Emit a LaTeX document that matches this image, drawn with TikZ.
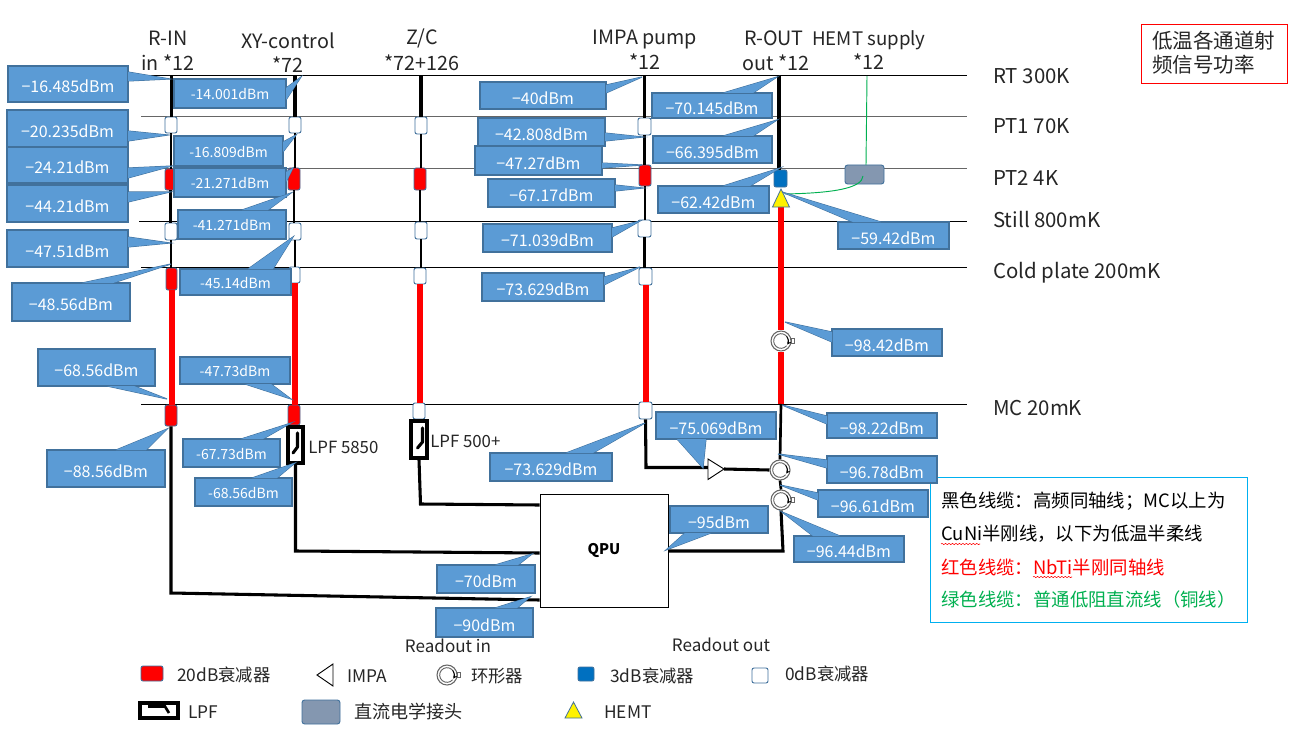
\documentclass[tikz,border=0pt]{standalone}
\usepackage{fontspec}
\setmainfont{Noto Sans CJK SC}
\usetikzlibrary{arrows.meta,decorations.pathmorphing}
\definecolor{cfillc}{HTML}{5B9BD5}
\definecolor{cedge}{HTML}{41719C}
\definecolor{attb}{HTML}{0070C0}
\definecolor{hdr}{HTML}{8497B0}
\definecolor{cyanb}{HTML}{00B0F0}
\definecolor{grn}{HTML}{00B050}
\newcommand{\fs}[1]{\fontsize{#1}{#1}\selectfont}
\newcommand{\clower}{2pt}
\tikzset{
 lvl/.style={line width=0.75pt,black},
 lvlg/.style={line width=0.75pt,black!60},
 coax/.style={line width=2.3pt,black},
 coaxthin/.style={line width=2pt,black},
 nbti/.style={line width=4.5pt,red},
 cnode/.style={draw=cedge,fill=cfillc,line width=0.8pt,inner sep=0pt,text=white,font=\fs{12}},
 ctail/.style={draw=cedge,fill=cfillc,line width=0.8pt,line join=miter},
 att0/.style={draw=cedge,fill=white,line width=0.7pt,rounded corners=1.5pt,inner sep=0pt},
 att20/.style={draw=cedge,fill=red,line width=0.7pt,rounded corners=1.5pt,inner sep=0pt},
 att3/.style={draw=cedge,fill=attb,line width=0.7pt,rounded corners=1.5pt,inner sep=0pt},
 conn/.style={draw=cedge,fill=hdr,line width=0.7pt,rounded corners=2pt,inner sep=0pt},
 lpfb/.style={draw=black,fill=white,line width=2.6pt,inner sep=0pt},
 lbl/.style={inner sep=0pt,font=\fs{14.8},text=black!85},
 rowl/.style={inner sep=0pt,font=\fs{15.3},text=black!85,anchor=west},
 leg/.style={inner sep=0pt,font=\fs{13},text=black!85},
 infot/.style={inner sep=0pt,anchor=west,font=\fs{13.8}},
 notet/.style={inner sep=0pt,anchor=west,font=\fs{15.4},text=black!85},
 wavy/.style={red,line width=0.4pt,decorate,decoration={snake,amplitude=0.5pt,segment length=2.6pt}},
 circ/.style={circle,draw=black!60,fill=white,line width=0.8pt,inner sep=0pt,minimum size=15pt},
 hemt/.style={draw=cedge,fill=yellow,line width=0.6pt,line join=miter},
}
% name x0 y0 x1 y1 style
\newcommand{\boxn}[6]{%
 \pgfmathsetmacro\bcx{(#2+#4)/2}\pgfmathsetmacro\bcy{(#3+#5)/2}%
 \pgfmathsetmacro\bw{(#4-#2)*0.75}\pgfmathsetmacro\bh{(#5-#3)*0.75}%
 \node[#6,rectangle,minimum width=\bw pt,minimum height=\bh pt] (#1) at (\bcx,\bcy) {};}
% name x0 y0 x1 y1 text tip base1 base2
\newcommand{\cb}[9]{%
 \pgfmathsetmacro\bcx{(#2+#4)/2}\pgfmathsetmacro\bcy{(#3+#5)/2}%
 \pgfmathsetmacro\bw{(#4-#2)*0.75}\pgfmathsetmacro\bh{(#5-#3)*0.75}%
 \draw[ctail] (#8)--(#7)--(#9);
 \node[cnode,rectangle,minimum width=\bw pt,minimum height=\bh pt] (#1) at (\bcx,\bcy) {\raisebox{-\clower}[\height][\depth]{#6}};
 \fill[cfillc] (#8)--(#7)--(#9)--cycle;}
\newcommand{\circu}[3]{%
 \node[circ] (#1) at (#2,#3) {};
 \draw[black!60,line width=0.7pt] (#1.center) ++(-40:5.5pt) arc[start angle=-40,end angle=-350,radius=5.5pt];
 \draw[black,line width=0.6pt,-{Stealth[length=3pt,width=3pt]}] (#1.center) ++(40:5.5pt) arc[start angle=40,end angle=-30,radius=5.5pt];}
% straight vertical segment from node anchor down to the level of another anchor
\newcommand{\vseg}[3]{\draw[#1] (#2)--(#2|-#3);}
\begin{document}
\begin{tikzpicture}[x=0.75pt,y=-0.75pt]
\useasboundingbox (0,0) rectangle (1309,738);
\fill[white] (0,0) rectangle (1309,738);
% levels
\coordinate (rtL) at (147,76); \coordinate (rtR) at (967,76);
\coordinate (p1L) at (141,117); \coordinate (p1R) at (967,117);
\coordinate (p2L) at (141,168.5); \coordinate (p2R) at (967,168.5);
\coordinate (stL) at (139,221.5); \coordinate (stR) at (967,221.5);
\coordinate (coL) at (141,267.5); \coordinate (coR) at (967,267.5);
\coordinate (mcL) at (141,404); \coordinate (mcR) at (967,404);
\draw[lvl] (rtL)--(rtR);
\draw[lvlg] (p1L)--(p1R);
\draw[lvlg] (p2L)--(p2R);
\draw[lvl] (stL)--(stR);
\draw[lvl] (coL)--(coR);
\draw[lvl] (mcL)--(mcR);
% tops
\coordinate (t1) at (171.5,76); \coordinate (t2) at (295,76); \coordinate (t3) at (421,76);
\coordinate (t4) at (644.5,76); \coordinate (t5) at (779,76); \coordinate (t6) at (867,76);
% QPU
\boxn{qpu}{540}{494}{668}{607}{draw=black,fill=white,line width=0.7pt,inner sep=0pt}
\node[font=\fs{11}\bfseries,inner sep=0pt] at (qpu.center) {QPU};
% col 1
\boxn{a11}{165}{117}{177}{133}{att0}
\boxn{a12}{165}{169}{176}{190}{att20}
\boxn{a13}{165}{223}{177}{240}{att0}
\boxn{a14}{166}{268}{177}{290}{att20}
\boxn{a15}{165}{405}{177}{426}{att20}
\vseg{coax}{t1}{a11.north}
\vseg{coaxthin}{a11.south}{a12.north}
\vseg{coaxthin}{a12.south}{a13.north}
\vseg{coaxthin}{a13.south}{a14.north}
\vseg{nbti}{a14.south}{a15.north}
\draw[coax] (a15.south)--(171,593)--(qpu.west|-0,600);
% col 2
\boxn{a21}{289}{117}{301}{133}{att0}
\boxn{a22}{288}{168}{300}{190}{att20}
\boxn{a23}{289}{223}{301}{240}{att0}
\boxn{a24}{289}{267}{300}{283}{att0}
\boxn{a25}{288}{405}{300}{425}{att20}
\boxn{l2}{288}{427}{303}{463}{lpfb}
\vseg{coax}{t2}{a21.north}
\vseg{coaxthin}{a21.south}{a22.north}
\vseg{coaxthin}{a22.south}{a23.north}
\vseg{coaxthin}{a23.south}{a24.north}
\vseg{nbti}{a24.south}{a25.north}
\draw[coax,line cap=round,line join=round] (297.5,433)--(297.5,447)--(293,453);
\draw[coax] (l2.south)--(295.5,551)--(qpu.west|-0,553);
% col 3
\boxn{a31}{415}{117}{427}{134}{att0}
\boxn{a32}{414}{168}{426}{190}{att20}
\boxn{a33}{415}{222}{427}{239}{att0}
\boxn{a34}{414}{268}{426}{284}{att0}
\boxn{a35}{413}{403}{425}{419}{att0}
\boxn{l3}{411}{421}{427}{458}{lpfb}
\vseg{coax}{t3}{a31.north}
\vseg{coaxthin}{a31.south}{a32.north}
\vseg{coaxthin}{a32.south}{a33.north}
\vseg{coaxthin}{a33.south}{a34.north}
\vseg{nbti}{a34.south}{a35.north}
\draw[coax,line cap=round,line join=round] (422.5,428)--(422.5,442)--(417.5,448);
\draw[coax] (l3.south)--(420.5,504)--(qpu.west|-0,505);
% col 4
\boxn{a41}{638}{118}{651}{135}{att0}
\boxn{a42}{639}{165}{651}{186}{att20}
\boxn{a43}{638}{220}{651}{237}{att0}
\boxn{a44}{639}{268}{652}{285}{att0}
\boxn{a45}{639}{402}{652}{419}{att0}
\vseg{coax}{t4}{a41.north}
\vseg{coaxthin}{a41.south}{a42.north}
\vseg{coaxthin}{a42.south}{a43.north}
\vseg{coaxthin}{a43.south}{a44.north}
\vseg{nbti}{a44.south}{a45.north}
% col 5
\boxn{a51}{774}{170}{787}{187}{att3}
\draw[coax,line width=3pt] (t5)--(t5|-a51.north);
\coordinate (h5t) at (781,189);
\coordinate (h5b) at (781,207);
\circu{c1}{781}{341}
\circu{c2}{780}{470}
\circu{c3}{781}{500}
\coordinate (mc5) at (781,404);
\draw[nbti] (h5b)--(c1.north);
\draw[nbti] (c1.south)--(mc5);
\draw[hemt] (h5t)--(789.5,207)--(772.5,207)--cycle;
\draw[coaxthin] (mc5)--(c2.north);
\draw[coaxthin] (c2.south)--(c3.north);
\draw[coax] (c3.south)--(783,551)--(qpu.east|-0,551);
\draw[black!60,fill=white,line width=0.6pt] (791,338.5) rectangle (794,343.5);
\draw[black!60,fill=white,line width=0.6pt] (791,497.5) rectangle (794,502.5);
% amp
\draw[coax] (a45.south)--(646,467.5)--(708,467.5);
\draw[black,fill=white,line width=0.7pt] (708,459)--(724,469)--(708,479.5)--cycle;
\coordinate (ampo) at (724,469);
\draw[coax] (ampo)--(c2.west);
% green
\boxn{dc}{845}{165}{884}{184}{conn}
\draw[grn,line width=0.7pt] (t6)--(866,165);
\draw[grn,line width=0.7pt] (863,176) .. controls (862,188) and (835,193) .. (785,194);
% header labels
\node[lbl] at (168,38) {R-IN};
\node[lbl] at (168,63) {in *12};
\node[lbl] at (288,41) {XY-control};
\node[lbl] at (288,65) {*72};
\node[lbl] at (422,38) {Z/C};
\node[lbl] at (422,63) {*72+126};
\node[lbl] at (645,40) {IMPA pump};
\node[lbl] at (645,62) {*12};
\node[lbl] at (774,38) {R-OUT};
\node[lbl] at (776,63) {out *12};
\node[lbl,font=\fs{14}] at (869,40) {HEMT supply};
\node[lbl] at (869,62) {*12};
% row labels
\node[rowl] at (993,76) {RT 300K};
\node[rowl] at (993,126) {PT1 70K};
\node[rowl] at (993,178) {PT2 4K};
\node[rowl] at (993,220) {Still 800mK};
\node[rowl] at (993,273) {Cold plate 200mK};
\node[rowl] at (993,408) {MC 20mK};
\node[leg,anchor=west,font=\fs{12.6}] at (308,447) {LPF 5850};
\node[leg,anchor=west,font=\fs{12.6}] at (430,441) {LPF 500+};
\node[leg,font=\fs{12.8}] at (448,646) {Readout in};
\node[leg,font=\fs{12.8}] at (721,645) {Readout out};
% callouts col1
\cb{k1}{8}{66}{128}{102}{−16.485dBm}{170,79}{128,72}{128,81}
\cb{k2}{7}{110}{128}{147}{−20.235dBm}{168,135}{128,131}{128,141}
\cb{k3}{7}{147}{128}{183}{−24.21dBm}{172,166}{128,168}{128,178}
\cb{k4}{7}{185}{128}{222}{−44.21dBm}{170,192}{128,192}{128,202}
\cb{k5}{7}{230}{128}{267}{−47.51dBm}{170,243}{128,237}{128,247}
\cb{k6}{12}{283}{130}{321}{−48.56dBm}{171,264}{82,283}{113,283}
\cb{k7}{38}{349}{155}{386}{−68.56dBm}{167,399}{107,386}{134,386}
\cb{k8}{47}{450}{165}{487}{−88.56dBm}{167,429}{116,450}{146,450}
% col2
\renewcommand{\clower}{0.5pt}
\cb{m1}{174}{79}{286}{108}{\fs{10.5}-14.001dBm}{301,77}{286,88}{286,100}
\cb{m2}{174}{136}{283}{166}{\fs{10.5}-16.809dBm}{296,135}{283,142}{283,152}
\cb{m3}{174}{168}{286}{197}{\fs{10.5}-21.271dBm}{293,168}{286,172}{286,182}
\cb{m4}{178}{210}{286}{239}{\fs{10.5}-41.271dBm}{291,193}{242,210}{268,210}
\cb{m5}{180}{269}{291}{295}{\fs{10.5}-45.14dBm}{293,237}{248,269}{273,269}
\cb{m6}{180}{357}{290}{384}{\fs{10.5}-47.73dBm}{291,399}{245,384}{271,384}
\cb{m7}{183}{439}{280}{467}{\fs{10.5}-67.73dBm}{291,423}{241,439}{263,439}
\cb{m8}{195}{478}{292}{506}{\fs{10.5}-68.56dBm}{295,463}{252,478}{277,478}
\renewcommand{\clower}{2pt}
\cb{m9}{437}{565}{535}{593}{−70dBm}{532,554}{495,565}{518,565}
\cb{m10}{436}{608}{533}{637}{−90dBm}{530,597}{495,608}{517,608}
% col4
\cb{n1}{480}{82}{606}{109}{−40dBm}{642,77}{606,85}{606,93}
\cb{n2}{478}{118}{605}{146}{−42.808dBm}{643,137}{605,133}{605,141}
\cb{n3}{475}{146}{602}{175}{−47.27dBm}{642,165}{602,163}{602,168}
\cb{n4}{488}{179}{615}{207}{−67.17dBm}{643,188}{615,185}{615,191}
\cb{n5}{483}{224}{612}{252}{−71.039dBm}{640,221}{612,228}{612,237}
\cb{n6}{482}{273}{604}{301}{−73.629dBm}{640,267}{604,277}{604,285}
\cb{n7}{490}{453}{612}{481}{−73.629dBm}{645,423}{566,453}{593,453}
% col5
\cb{p1}{652}{93}{772}{118}{−70.145dBm}{777,77}{723,93}{753,93}
\cb{p2}{653}{136}{772}{163}{−66.395dBm}{777,120}{723,136}{753,136}
\cb{p3}{658}{186}{769}{213}{−62.42dBm}{780,168}{723,186}{750,186}
\cb{p4}{838}{222}{949}{249}{−59.42dBm}{782,192}{853,222}{881,222}
\cb{p5}{832}{329}{942}{356}{−98.42dBm}{785,322}{832,332}{832,342}
\cb{p6}{827}{413}{937}{438}{−98.22dBm}{782,405}{827,416}{827,424}
\cb{p7}{656}{412}{776}{439}{−75.069dBm}{703,468}{677,439}{706,439}
\cb{p9}{670}{506}{768}{533}{−95dBm}{666,550}{685,533}{711,533}
\cb{p10}{794}{536}{904}{562}{−96.44dBm}{782,512}{813,536}{840,536}
% info box
\boxn{info}{930}{477}{1247}{622}{draw=cyanb,fill=white,line width=0.7pt}
\cb{p8}{827}{456}{937}{483}{−96.78dBm}{778,454}{827,460}{827,468}
\cb{p11}{818}{490}{928}{517}{−96.61dBm}{780,485}{818,493}{818,500}
\node[infot] at (941,501) {黑色线缆：高频同轴线；MC以上为};
\node[infot] at (941,534) {CuNi半刚线，以下为低温半柔线};
\node[infot,text=red] at (941,567) {红色线缆：NbTi半刚同轴线};
\node[infot,text=grn] at (941,600) {绿色线缆：普通低阻直流线（铜线）};
\coordinate (w1a) at (941,544); \coordinate (w1b) at (980,544);
\coordinate (w2a) at (1033,577); \coordinate (w2b) at (1072,577);
\draw[wavy] (w1a)--(w1b);
\draw[wavy] (w2a)--(w2b);
% top right box
\boxn{note}{1141}{24}{1287}{83}{draw=red,fill=white,line width=0.7pt}
\node[notet] at (1152,41) {低温各通道射};
\node[notet] at (1152,65) {频信号功率};
% legend
\boxn{g1}{141}{666}{163}{681}{att20}
\node[leg,anchor=west] at (177,675) {20dB衰减器};
\draw[black,line width=0.7pt,fill=white] (333,664)--(317,675)--(333,686)--cycle;
\node[leg,anchor=west] at (347,676) {IMPA};
\circu{g2}{447}{675}
\draw[black!60,fill=white,line width=0.6pt] (457,672.5) rectangle (460,677.5);
\node[leg,anchor=west] at (471,676) {环形器};
\boxn{g3}{578}{667}{594}{681}{att3}
\node[leg,anchor=west] at (610,676) {3dB衰减器};
\boxn{g4}{752}{668}{768}{683}{att0}
\node[leg,anchor=west] at (785,674) {0dB衰减器};
\boxn{g5}{140}{703}{178}{718}{lpfb}
\draw[coax,line width=2pt] (148,706.5)--(165,706.5)--(169,713);
\node[leg,anchor=west] at (188,712) {LPF};
\boxn{g6}{302}{700}{340}{724}{conn}
\node[leg,anchor=west,font=\fs{13.6}] at (354,712) {直流电学接头};
\draw[hemt] (573.5,702)--(582,718)--(565,718)--cycle;
\node[leg,anchor=west] at (604,712) {HEMT};
\end{tikzpicture}
\end{document}
